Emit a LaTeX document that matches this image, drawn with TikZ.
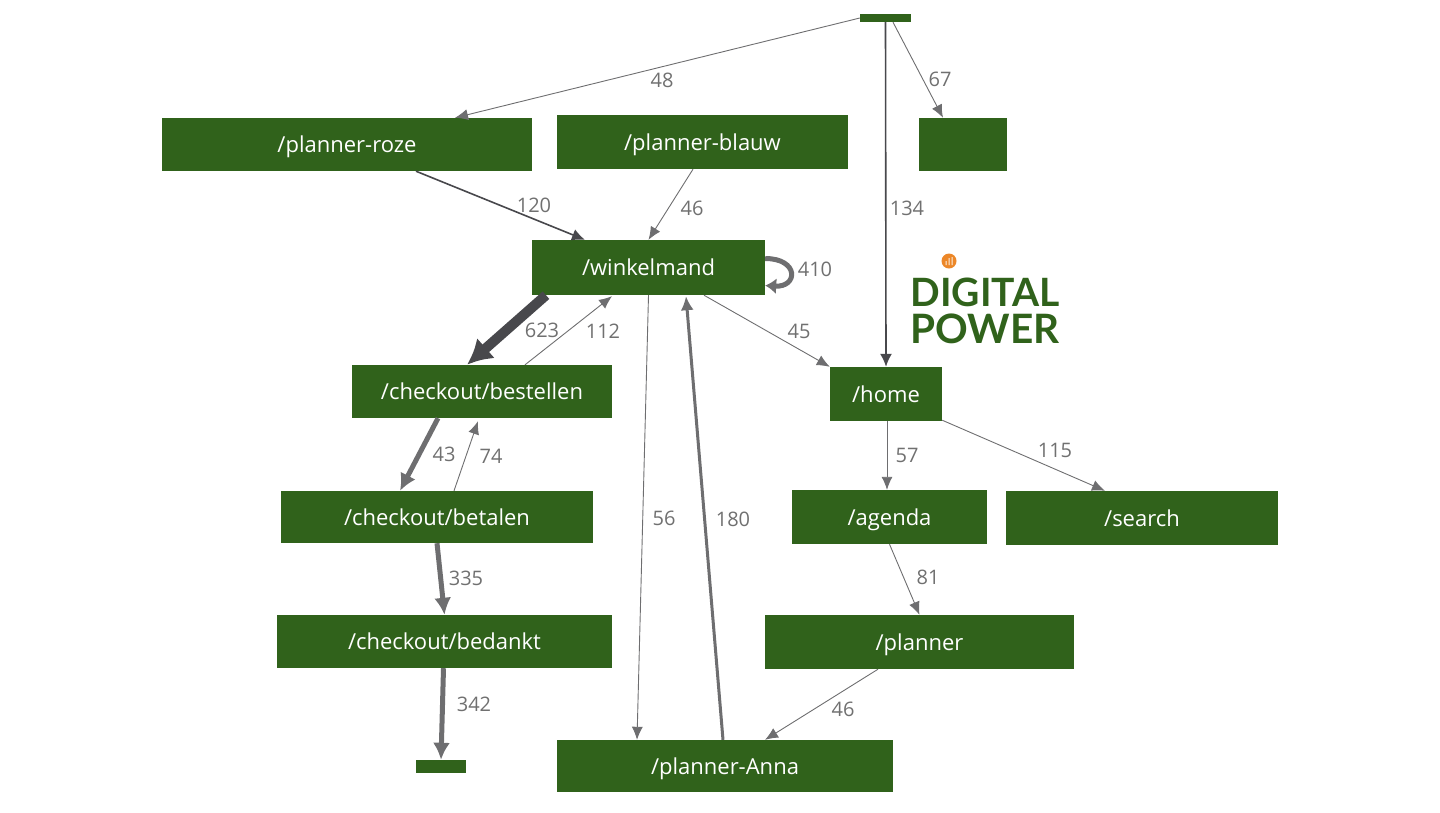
\documentclass[tikz,border=0pt]{standalone}
\usepackage{fontspec}
\setmainfont{Open Sans}
\newfontfamily\logofont{Lato}
\usepackage{xcolor}
\usetikzlibrary{arrows.meta,positioning,calc}
\definecolor{boxgreen}{RGB}{48,98,27}
\definecolor{labelgray}{RGB}{112,112,112}
\definecolor{edgedark}{RGB}{72,72,76}
\definecolor{edgemid}{RGB}{110,110,112}
\definecolor{logoorange}{RGB}{236,135,40}
\tikzset{
	box/.style={fill=boxgreen,text=white,inner sep=0pt,text height=16pt,text depth=0pt,font=\fontsize{22}{26}\selectfont},
	count/.style={text=labelgray,inner sep=0pt,font=\fontsize{20}{24}\selectfont},
	thinedge/.style={draw=edgemid,line width=0.9pt,-{Latex[length=13pt,width=11pt]}},
	darkedge/.style={draw=edgedark,line width=1.6pt,-{Latex[length=13pt,width=12pt]}},
	midedge/.style={draw=edgemid,line width=3pt,-{Latex[length=14pt,width=13pt]}},
	heavyedge/.style={draw=edgemid,line width=5pt,-{Latex[length=17pt,width=17pt]}},
}
\begin{document}
\begin{tikzpicture}[x=1pt,y=-1pt]
	\useasboundingbox (0,0) rectangle (1440,812);
	
	% pages
	\node[box,minimum width=51pt,minimum height=8pt,text height=0pt] (start) at (885.5,18) {};
	\node[box,minimum width=370pt,minimum height=53pt] (roze) at (347,144.5) {/planner-roze};
	\node[box,minimum width=291pt,minimum height=54pt] (blauw) at (702.5,142) {/planner-blauw};
	\node[box,minimum width=88pt,minimum height=53pt] (blank) at (963,144.5) {};
	\node[box,minimum width=233pt,minimum height=55pt] (winkel) at (648.5,267.5) {/winkelmand};
	\node[box,minimum width=260pt,minimum height=53pt] (bestellen) at (482,391.5) {/checkout/bestellen};
	\node[box,minimum width=112pt,minimum height=54pt] (home) at (886,394) {/home};
	\node[box,minimum width=312pt,minimum height=52pt] (betalen) at (437,517) {/checkout/betalen};
	\node[box,minimum width=195pt,minimum height=54pt] (agenda) at (889.5,517) {/agenda};
	\node[box,minimum width=272pt,minimum height=54pt] (search) at (1142,518) {/search};
	\node[box,minimum width=335pt,minimum height=53pt] (bedankt) at (444.5,641.5) {/checkout/bedankt};
	\node[box,minimum width=309pt,minimum height=54pt] (planner) at (919.5,642) {/planner};
	\node[box,minimum width=50pt,minimum height=13pt,text height=0pt] (end) at (441,766.5) {};
	\node[box,minimum width=336pt,minimum height=52pt] (anna) at (725,766) {/planner-Anna};
	
	% edges
	\draw[thinedge] (start.west) -- ([xshift=108pt]roze.north);
	\draw[thinedge] ([xshift=7.5pt]start.south) -- ([xshift=-20pt]blank.north);
	\draw[darkedge] (start.south) -- (home.north);
	\draw[darkedge] ([xshift=69pt]roze.south) -- ([xshift=-63.5pt]winkel.north);
	\draw[thinedge] ([xshift=-9.5pt]blauw.south) -- (winkel.north);
	\draw[edgedark,line width=10pt,-{Latex[length=25pt,width=27pt]}] ([xshift=-102.5pt]winkel.south) -- ([xshift=-15pt]bestellen.north);
	\draw[thinedge] ([xshift=43pt]bestellen.north) -- ([xshift=-36.5pt,yshift=-1pt]winkel.south);
	\draw[thinedge] ([xshift=55.5pt]winkel.south) -- (home.north west);
	\draw[thinedge] (winkel.south) -- ([xshift=-88pt]anna.north);
	\draw[midedge] ([xshift=-2pt]anna.north) -- ([xshift=37.5pt,yshift=-1pt]winkel.south);
	\draw[heavyedge] ([xshift=-44pt]bestellen.south) -- ([xshift=-37pt]betalen.north);
	\draw[thinedge] ([xshift=17pt]betalen.north) -- ([xshift=-4pt,yshift=-3pt]bestellen.south);
	\draw[heavyedge] (betalen.south) -- (bedankt.north);
	\draw[heavyedge] ([xshift=-1pt]bedankt.south) -- (end.north);
	\draw[thinedge] ([xshift=1pt]home.south) -- ([xshift=-2.5pt]agenda.north);
	\draw[thinedge] ([yshift=1pt]home.south east) -- ([xshift=-37pt]search.north);
	\draw[thinedge] (agenda.south) -- (planner.north);
	\draw[thinedge] ([xshift=-41.5pt]planner.south) -- ([xshift=40pt]anna.north);
	\draw[edgemid,line width=5pt,-{Latex[length=11pt,width=16pt]}] ([yshift=9pt]winkel.east) .. controls +(34pt,0pt) and +(33pt,-2pt) .. ([yshift=-18pt]winkel.east);
	
	% counts
	\node[count] (n48) at (662,80) {48};
	\node[count] (n67) at (940,79) {67};
	\node[count] (n120) at (534,205) {120};
	\node[count] (n46a) at (692,208) {46};
	\node[count] (n134) at (907,208) {134};
	\node[count] (n410) at (815,269) {410};
	\node[count] (n623) at (542,330) {623};
	\node[count] (n112) at (603,331) {112};
	\node[count] (n45) at (799,331) {45};
	\node[count] (n43) at (444,454) {43};
	\node[count] (n74) at (491,456) {74};
	\node[count] (n57) at (907,455) {57};
	\node[count] (n115) at (1055,450) {115};
	\node[count] (n56) at (664,518) {56};
	\node[count] (n180) at (733,519) {180};
	\node[count] (n335) at (466,578) {335};
	\node[count] (n81) at (928,577) {81};
	\node[count] (n342) at (474,704) {342};
	\node[count] (n46b) at (843,709) {46};
	
	% logo
	\node[circle,fill=logoorange,minimum size=15pt,inner sep=0pt] (dot) at (949,261) {};
	\fill[white!85!logoorange] (945.5,261) rectangle (946.5,265) (948.5,258) rectangle (949.5,265) (951.5,257) rectangle (952.5,265);
	\node[text=boxgreen,inner sep=0pt,font=\logofont\bfseries\fontsize{39}{39}\selectfont] (digital) at (985,292) {DIGITAL};
	\node[text=boxgreen,inner sep=0pt,font=\logofont\bfseries\fontsize{40.5}{40}\selectfont] (power) at (985,329) {POWER};
\end{tikzpicture}
\end{document}
